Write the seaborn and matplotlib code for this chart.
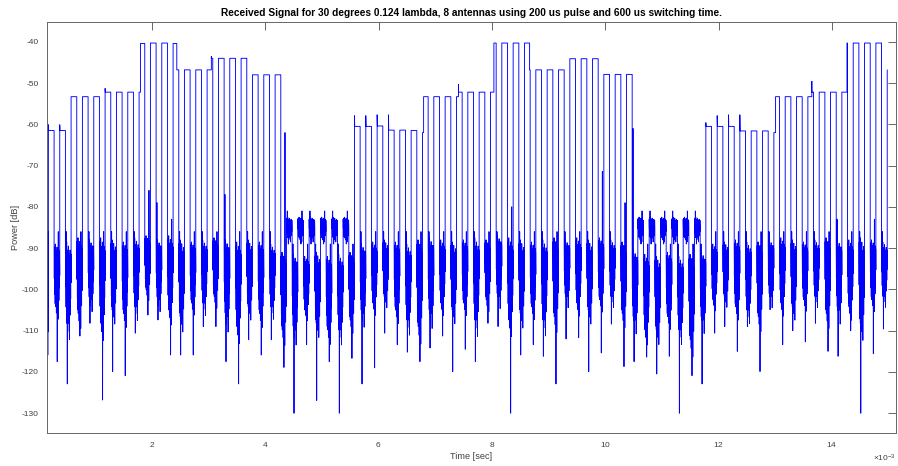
import numpy as np
import pandas as pd
import matplotlib
matplotlib.use("Agg")
import matplotlib.pyplot as plt
import seaborn as sns
from matplotlib.ticker import ScalarFormatter

# ---------------- data ----------------
title_text = "Received Signal for 30 degrees 0.124 lambda, 8 antennas using 200 us pulse and 600 us switching time."
x_label = "Time [sec]"
y_label = "Power [dB]"

record_start_ms = 0.15
first_pulse_ms = 0.175
pulse_period_ms = 0.2
pulse_on_ms = 0.1
x_limits_ms = [0.15, 15.13]
y_limits_db = [-134.8, -35.2]
y_ticks_db = [-130, -120, -110, -100, -90, -80, -70, -60, -50, -40]
x_ticks_ms = [2, 4, 6, 8, 10, 12, 14]

N = None  # pulse slot with no pulse (only noise)
pulse_level_db = [
    -61.5, -61.5, -53.3, -53.3, -53.3, -52.2, -52.2, -52.2, -40.4, -40.3,
    -40.3, -46.8, -46.8, -46.8, -44.0, -44.0, -44.0, -44.0, -48.0, -48.0,
    -48.0, N, N, N, N, N, N, -60.5, -60.5, -60.4,
    -61.4, -61.4, -61.5, -53.3, -53.3, -53.3, -52.2, -52.2, -52.2, -40.3,
    -40.3, -40.3, -46.8, -46.8, -46.8, -46.8, -44.1, -44.1, -44.1, -47.9,
    -47.9, -47.9, N, N, N, N, N, N, -60.5, -60.5,
    -60.5, -61.6, -61.6, -61.6, -53.3, -53.3, -53.3, -52.2, -52.2, -52.2,
    -40.3, -40.3, -40.3, -40.3, -46.8,
]

overshoot_pulse = [0, 1, 5, 27, 28, 29, 30, 58, 59, 60, 61]
overshoot_db = [-60.1, -60.1, -51.3, -57.9, -57.9, -57.7, -57.7, -59.6, -57.9, -57.7, -57.7]

switch_pulse = [8, 11, 14, 33, 36, 39, 42, 64, 67, 70]
switch_from_db = [-52.2, -40.4, -46.8, -62.0, -53.3, -52.2, -40.3, -62.0, -53.3, -52.2]
switch_at = [0.25, 0.65, 0.75, 0.2, 0.35, 0.6, 0.9, 0.3, 0.7, 0.9]
switch_peak_db = [N, N, -43.6, N, -50.4, N, N, N, -49.6, N]

# noise between pulses (one entry per gap after pulse k, k = 0..73)
noise_top_db = [
    -89.0, -88.5, -87.5, -88.0, -87.5, -88.0, -88.5, -87.5, -87.0, -88.0,
    -87.0, -88.0, -88.5, -88.0, -87.5, -88.0, -88.5, -88.0, -88.5, -89.0,
    -91.0, -91.5, -92.0, -91.0, -92.0, -91.5, -91.0,
    -89.0, -88.5, -88.0, -88.5, -89.0, -88.0, -87.5, -88.0, -88.5, -88.0,
    -87.5, -88.0, -87.0, -87.5, -88.0, -88.5, -88.0, -87.5, -88.0, -87.5,
    -88.0, -87.5, -88.0, -88.5,
    -90.5, -91.5, -92.0, -91.0, -92.0, -91.5, -91.0,
    -89.0, -88.5, -88.0, -88.5, -88.5, -88.0, -87.5, -88.0, -88.5, -88.0,
    -87.5, -88.0, -88.0, -87.5, -88.0, -88.5,
]
noise_bottom_db = [
    -104.2, -108.2, -105.8, -102.5, -108.2, -105.0, -105.8, -104.2, -100.1, -102.5,
    -105.0, -106.6, -103.3, -103.3, -101.7, -106.6, -109.0, -104.2, -105.8, -104.2,
    -109.8, -109.8, -105.0, -108.2, -109.8, -109.8, -107.4, -105.8, -103.3, -101.7,
    -105.0, -107.4, -109.0, -105.8, -103.3, -105.0, -103.3, -107.4, -102.5, -101.7,
    -107.4, -105.8, -104.2, -107.4, -106.6, -101.7, -103.3, -105.0, -102.5, -101.7,
    -105.8, -107.4, -109.8, -109.8, -106.6, -109.8, -112.2, -107.4, -102.5, -101.7,
    -104.2, -105.0, -106.6, -101.7, -103.3, -104.2, -102.5, -101.7, -105.8, -105.0,
    -104.2, -108.2, -102.5, -101.7,
]
noise_min_db = [
    -117.5, -122.9, -111.3, -108.2, -126.8, -119.9, -120.9, -110.6, -106.2, -107.4,
    -115.9, -115.9, -115.9, -109.0, -109.0, -117.5, -122.9, -112.2, -115.9, -112.2,
    -118.9, -130.0, -113.4, -126.9, -117.5, -130.0, -116.7, -122.9, -119.0, -110.6,
    -113.4, -115.2, -117.5, -114.2, -111.3, -119.9, -114.5, -117.5, -108.2, -109.0,
    -130.0, -115.9, -113.4, -116.2, -122.9, -112.0, -111.7, -119.9, -115.4, -108.4,
    -118.7, -117.5, -116.4, -120.5, -116.2, -130.0, -120.9, -122.9, -110.6, -109.0,
    -115.0, -109.0, -119.9, -104.9, -113.4, -110.0, -112.7, -108.2, -115.0, -116.2,
    -110.0, -130.0, -115.6, -109.6,
]
noise_max_db = [
    -86.0, -86.0, -86.0, -86.0, -86.0, -86.0, -86.0, -86.0, -76.0, -79.0,
    -83.0, -86.0, -86.0, -86.0, -86.0, -77.0, -86.0, -86.0, -86.0, -86.0,
    -62.0, -89.0, -89.0, -89.0, -89.0, -89.0, -89.0, -86.0, -86.0, -86.0,
    -86.0, -86.0, -86.0, -86.0, -86.0, -86.0, -86.0, -86.0, -86.0, -86.0,
    -80.0, -86.0, -86.0, -86.0, -86.0, -86.0, -86.0, -86.0, -71.4, -86.0,
    -79.0, -61.0, -89.0, -89.0, -89.0, -89.0, -89.0, -89.0, -86.0, -86.0,
    -86.0, -86.0, -86.0, -86.0, -86.0, -86.0, -86.0, -86.0, -86.0, -83.0,
    -86.0, -86.0, -83.0, -86.0,
]
# noise before the first pulse
pre_noise_db = [-88.0, -106.6, -115.9, -86.0]  # top, bottom, min, max
# noise in pulse slots without a pulse
idle_noise_db = [-82.5, -87.5, -89.0, -81.0]   # top, bottom, min, max

# texture used to draw a dense noise burst between its top and bottom (fractions of the band)
NOISE_SHAPE = [0.10, 0.55, 0.05, 0.80, 0.20, 0.95, 0.00, 1.00, 0.30, 0.90,
               0.10, 1.10, 0.25, 0.85, 0.05, 1.00, 0.35, 0.95, 0.15, 1.20,
               0.20, 0.80, 0.10, 0.90, 0.30, 0.70, 0.15, 0.50]


# ---------------- build the trace ----------------
def noise_burst(t_a, t_b, top, bottom, lo, hi, k):
    shape = np.array(NOISE_SHAPE)
    ts = np.linspace(t_a, t_b, len(shape))
    ys = top + (bottom - top) * shape
    ys[9 if k % 2 else 15] = lo
    ys[4 if k % 2 else 20] = hi
    return list(ts), list(ys)


t_ms, p_db = [], []
a, b = noise_burst(record_start_ms, first_pulse_ms, *pre_noise_db, 0)
t_ms += a
p_db += b

n_pulses = len(pulse_level_db)
for k in range(n_pulses):
    ts = first_pulse_ms + pulse_period_ms * k
    lvl = pulse_level_db[k]
    if lvl is None:
        a, b = noise_burst(ts, ts + pulse_on_ms, *idle_noise_db, k)
        t_ms += a
        p_db += b
    else:
        start = lvl
        if k in switch_pulse:
            start = switch_from_db[switch_pulse.index(k)]
        if k in overshoot_pulse:
            t_ms += [ts, ts + 0.004]
            p_db += [overshoot_db[overshoot_pulse.index(k)], start]
        else:
            t_ms += [ts]
            p_db += [start]
        if k == n_pulses - 1:
            break
        if k in switch_pulse:
            i = switch_pulse.index(k)
            tsw = ts + switch_at[i] * pulse_on_ms
            t_ms += [tsw]
            p_db += [start]
            if switch_peak_db[i] is not None:
                t_ms += [tsw]
                p_db += [switch_peak_db[i]]
            t_ms += [tsw]
            p_db += [lvl]
        t_ms += [ts + pulse_on_ms]
        p_db += [lvl]
    a, b = noise_burst(ts + pulse_on_ms, ts + pulse_period_ms,
                       noise_top_db[k], noise_bottom_db[k],
                       noise_min_db[k], noise_max_db[k], k)
    t_ms += a
    p_db += b

df = pd.DataFrame({"time_s": np.array(t_ms) * 1e-3, "power_db": p_db})

# ---------------- draw ----------------
sns.set_style("white")
plt.rcParams["font.family"] = ["Liberation Sans", "DejaVu Sans"]
plt.rcParams["axes.unicode_minus"] = False
plt.rcParams["mathtext.fontset"] = "custom"
plt.rcParams["mathtext.rm"] = "Liberation Sans"

W, H = 898, 466
fig = plt.figure(figsize=(W / 100, H / 100), dpi=100)
ax = fig.add_axes([47 / W, 1 - 433 / H, (896 - 47) / W, (433 - 22) / H])

sns.lineplot(data=df, x="time_s", y="power_db", sort=False, estimator=None,
             color="#0000ff", linewidth=0.65, ax=ax, legend=False)

ax.set_xlim(x_limits_ms[0] * 1e-3, x_limits_ms[1] * 1e-3)
ax.set_ylim(*y_limits_db)
ax.set_xticks([v * 1e-3 for v in x_ticks_ms])
ax.set_yticks(y_ticks_db)
fmt = ScalarFormatter(useMathText=True)
fmt.set_powerlimits((-3, -3))
ax.xaxis.set_major_formatter(fmt)

axis_col = "#666666"
label_col = "#404040"
for s in ax.spines.values():
    s.set_visible(True)
    s.set_color(axis_col)
    s.set_linewidth(0.7)
ax.tick_params(axis="both", which="both", direction="in", length=5.5, width=0.7,
               color=axis_col, labelcolor=label_col, labelsize=6.0,
               top=True, right=True)
ax.tick_params(axis="y", pad=6)
ax.tick_params(axis="x", pad=5)
ax.xaxis.get_offset_text().set_fontsize(6.0)
ax.xaxis.get_offset_text().set_color(label_col)

ax.set_title(title_text, fontsize=7.25, fontweight="bold", color="black", pad=4)
ax.set_xlabel(x_label, fontsize=6.6, color=label_col, labelpad=2)
ax.set_ylabel(y_label, fontsize=6.6, color=label_col, labelpad=1)

fig.savefig("out.png", dpi=100)
